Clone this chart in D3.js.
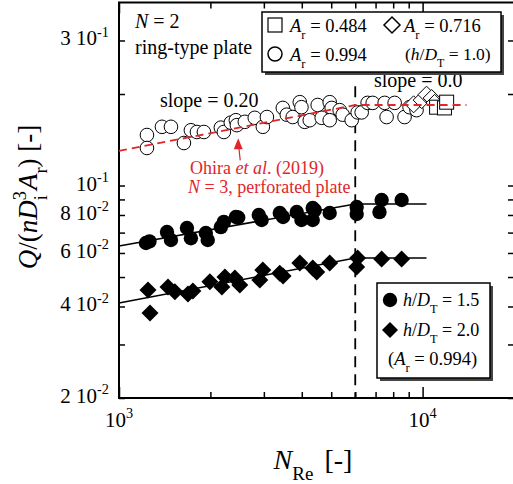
<!DOCTYPE html>
<html>
<head>
<meta charset="utf-8">
<script src="https://cdn.jsdelivr.net/npm/d3@7"></script>
<style>
  body { margin: 0; background: #fff; }
  svg { display: block; font-family: "Liberation Serif", "Times New Roman", serif; }
</style>
</head>
<body>
<script>
// tick values and labels
const xTickVals = [1000, 2000, 3000, 4000, 5000, 6000, 7000, 8000, 9000, 10000, 20000];
const xMajor = [1000, 10000];
const xLabels = [[1000, "3"], [10000, "4"]];
const yTickVals = [0.02, 0.03, 0.04, 0.05, 0.06, 0.07, 0.08, 0.09, 0.1, 0.2, 0.3];
const yLabels = [[0.3, "3 ", "-1"], [0.1, "", "-1"], [0.08, "8 ", "-2"], [0.06, "6 ", "-2"], [0.04, "4 ", "-2"], [0.02, "2 ", "-2"]];

// h/DT = 1.0 series, [NRe, Q/(nDi^3 Ar)]
const openCircles = [[1236, 0.1466], [1236, 0.1329], [1385, 0.156], [1483, 0.156], [1636, 0.138], [1725, 0.152],
  [1806, 0.150], [1904, 0.150], [2165, 0.155], [2215, 0.150], [2335, 0.161], [2426, 0.164], [2445, 0.158],
  [2597, 0.162], [2800, 0.167], [2977, 0.156], [3070, 0.168], [3464, 0.180], [3570, 0.171], [3735, 0.168],
  [3940, 0.188], [3990, 0.181], [4090, 0.162], [4250, 0.164], [4513, 0.184], [4653, 0.167], [4943, 0.188],
  [5018, 0.180], [4943, 0.164], [5330, 0.177], [5455, 0.171], [5840, 0.164], [6110, 0.174], [6300, 0.174],
  [6590, 0.187], [6850, 0.187], [7500, 0.187], [7610, 0.168], [8090, 0.187], [8720, 0.168], [9060, 0.181],
  [9550, 0.177]];
const openDiamonds = [[9340, 0.185], [9930, 0.191], [10300, 0.199], [10710, 0.194], [10950, 0.187]];
const openSquares = [[11120, 0.181], [11800, 0.180], [12000, 0.188]];

// Ar = 0.994 series
const filledCircles = [[1227, 0.0647], [1260, 0.0655], [1439, 0.0703], [1483, 0.0662], [1674, 0.0725],
  [1725, 0.0671], [1932, 0.0698], [1960, 0.0662], [2165, 0.073], [2215, 0.0759], [2426, 0.0788], [2470, 0.0785],
  [2887, 0.080], [2950, 0.077], [3385, 0.0812], [3470, 0.0788], [3850, 0.0818], [3990, 0.077], [4346, 0.0843],
  [4414, 0.083], [4346, 0.077], [4943, 0.0812], [6066, 0.085], [6066, 0.0806], [7330, 0.0896], [7210, 0.0818],
  [8530, 0.0896]];
const filledDiamonds = [[1246, 0.0453], [1265, 0.0381], [1450, 0.0464], [1528, 0.0447], [1687, 0.044],
  [1751, 0.045], [1992, 0.0482], [2182, 0.0464], [2233, 0.050], [2408, 0.0496], [2500, 0.0471], [2910, 0.0489],
  [2977, 0.0527], [3385, 0.0515], [3470, 0.0504], [3940, 0.0556], [4346, 0.0535], [4480, 0.0519],
  [4943, 0.0556], [6110, 0.0577], [6066, 0.0539], [7330, 0.0573], [8530, 0.0573]];

// correlation lines
const fitOhira = [[1000, 0.130], [6000, 0.184], [13950, 0.184]];
const fit15 = [[1000, 0.0632], [6000, 0.087], [10300, 0.087]];
const fit20 = [[1000, 0.0411], [6000, 0.0577], [10300, 0.0577]];
const transitionRe = 6000;

const width = 513, height = 484;
const red = "#e0262b";

const x = d3.scaleLog().domain([1000, 20000]).range([119, 514]);
const y = d3.scaleLog().domain([0.02, 0.4]).range([398, 2.5]);

const svg = d3.select("body").append("svg")
  .attr("width", width)
  .attr("height", height);

// text with italic / sub / sup parts
function rich(g, px, py, size, parts, anchor, fill) {
  const t = g.append("text")
    .attr("x", px).attr("y", py)
    .attr("font-size", size)
    .attr("text-anchor", anchor || "start")
    .attr("fill", fill || "#000");
  let cur = 0;
  parts.forEach(function(p) {
    let off = 0, fs = size;
    if (p.s === "sub") { off = size * 0.38; fs = size * 0.68; }
    if (p.s === "sup") { off = -size * 0.42; fs = size * 0.68; }
    const sp = t.append("tspan").text(p.t)
      .attr("dy", off - cur)
      .attr("font-size", fs);
    if (p.dx) sp.attr("dx", p.dx);
    if (p.i) sp.attr("font-style", "italic");
    cur = off;
  });
  return t;
}

// axes (ticks point inward)
function tickLen(d) { return xMajor.includes(d) ? 11 : 6; }

const xb = svg.append("g").attr("transform", "translate(0,398)")
  .call(d3.axisBottom(x).tickValues(xTickVals).tickSizeOuter(0).tickFormat(""));
xb.selectAll(".tick line").attr("y2", d => -tickLen(d));
const xt = svg.append("g").attr("transform", "translate(0,2.5)")
  .call(d3.axisTop(x).tickValues(xTickVals).tickSizeOuter(0).tickFormat(""));
xt.selectAll(".tick line").attr("y2", d => tickLen(d));
svg.append("g").attr("transform", "translate(119,0)")
  .call(d3.axisLeft(y).tickValues(yTickVals).tickSize(-6).tickSizeOuter(0).tickFormat(""));
svg.append("g").attr("transform", "translate(514,0)")
  .call(d3.axisRight(y).tickValues(yTickVals).tickSize(-6).tickSizeOuter(0).tickFormat(""));
svg.selectAll(".domain").remove();
svg.selectAll(".tick line").attr("stroke", "#000").attr("stroke-width", 1.5);

svg.append("rect")
  .attr("x", x(1000)).attr("y", y(0.4))
  .attr("width", x(20000) - x(1000)).attr("height", y(0.02) - y(0.4))
  .attr("fill", "none").attr("stroke", "#000").attr("stroke-width", 2);

// tick labels
xLabels.forEach(function(d) {
  rich(svg, x(d[0]), 427, 21, [{t: "10"}, {t: d[1], s: "sup"}], "middle");
});
yLabels.forEach(function(d) {
  rich(svg, 109, y(d[0]) + 5, 21, [{t: d[1] + "10"}, {t: d[2], s: "sup"}], "end");
});

// axis titles
rich(svg, 313, 469, 28, [{t: "N", i: true}, {t: "Re", s: "sub"}, {t: " [-]", dx: 4}], "middle");
const yl = svg.append("g").attr("transform", "translate(37,197) rotate(-90)");
rich(yl, 0, 0, 27, [{t: "Q", i: true}, {t: "/("}, {t: "nD", i: true}, {t: "i", s: "sub"},
  {t: "3", s: "sup", dx: -5}, {t: "A", i: true, dx: 1}, {t: "r", s: "sub"}, {t: ") [-]"}], "middle");

// fit lines
const line = d3.line().x(d => x(d[0])).y(d => y(d[1]));
svg.append("path").datum(fit15).attr("d", line)
  .attr("fill", "none").attr("stroke", "#000").attr("stroke-width", 1.5);
svg.append("path").datum(fit20).attr("d", line)
  .attr("fill", "none").attr("stroke", "#000").attr("stroke-width", 1.5);

// transition line
svg.append("line")
  .attr("x1", x(transitionRe)).attr("x2", x(transitionRe))
  .attr("y1", y(0.212)).attr("y2", y(0.02))
  .attr("stroke", "#000").attr("stroke-width", 1.8).attr("stroke-dasharray", "11,7");

// markers
function diamond(s) { return "M0," + (-s) + "L" + s + ",0L0," + s + "L" + (-s) + ",0Z"; }

svg.append("g").selectAll("circle").data(openCircles).join("circle")
  .attr("cx", d => x(d[0])).attr("cy", d => y(d[1])).attr("r", 6.8)
  .attr("fill", "#fff").attr("stroke", "#000").attr("stroke-width", 1);
svg.append("g").selectAll("path").data(openDiamonds).join("path")
  .attr("transform", d => "translate(" + x(d[0]) + "," + y(d[1]) + ")")
  .attr("d", diamond(8.5))
  .attr("fill", "#fff").attr("stroke", "#000").attr("stroke-width", 1);
svg.append("g").selectAll("rect").data(openSquares).join("rect")
  .attr("x", d => x(d[0]) - 7).attr("y", d => y(d[1]) - 7)
  .attr("width", 14).attr("height", 14)
  .attr("fill", "#fff").attr("stroke", "#000").attr("stroke-width", 1);

svg.append("g").selectAll("circle").data(filledCircles).join("circle")
  .attr("cx", d => x(d[0])).attr("cy", d => y(d[1])).attr("r", 7.2)
  .attr("fill", "#000");
svg.append("g").selectAll("path").data(filledDiamonds).join("path")
  .attr("transform", d => "translate(" + x(d[0]) + "," + y(d[1]) + ")")
  .attr("d", diamond(8.5))
  .attr("fill", "#000");

// Ohira et al. (2019) correlation
svg.append("path").datum(fitOhira).attr("d", line)
  .attr("fill", "none").attr("stroke", red).attr("stroke-width", 1.8).attr("stroke-dasharray", "8,5");

// arrow to the red line
const ax = x(2470);
svg.append("line")
  .attr("x1", ax + 2).attr("y1", y(0.121)).attr("x2", ax).attr("y2", y(0.139))
  .attr("stroke", red).attr("stroke-width", 1.2);
svg.append("path")
  .attr("transform", "translate(" + ax + "," + y(0.143) + ")")
  .attr("d", "M0,0L-4.5,11L4.5,11Z").attr("fill", red);

// annotations
rich(svg, 135, 28, 20, [{t: "N", i: true}, {t: " = 2"}]);
rich(svg, 135, 54, 20, [{t: "ring-type plate"}]);
rich(svg, 160, 107, 20, [{t: "slope = 0.20"}]);
rich(svg, 374, 87, 20, [{t: "slope = 0.0"}]);
rich(svg, 190, 174, 18, [{t: "Ohira "}, {t: "et al", i: true}, {t: ". (2019)"}], "start", red);
rich(svg, 188, 193, 18, [{t: "N", i: true}, {t: " = 3, perforated plate"}], "start", red);

// legend boxes
function box(x0, y0, w, h) {
  svg.append("rect").attr("x", x0 + 3).attr("y", y0 + 3).attr("width", w).attr("height", h).attr("fill", "#444");
  svg.append("rect").attr("x", x0).attr("y", y0).attr("width", w).attr("height", h)
    .attr("fill", "#fff").attr("stroke", "#000").attr("stroke-width", 1.5);
}

box(262, 12, 239, 60);
svg.append("rect").attr("x", 268).attr("y", 18).attr("width", 14).attr("height", 14)
  .attr("fill", "#fff").attr("stroke", "#000").attr("stroke-width", 1.2);
rich(svg, 290, 32, 18.5, [{t: "A", i: true}, {t: "r", s: "sub"}, {t: " = 0.484"}]);
svg.append("path").attr("transform", "translate(392,25)").attr("d", diamond(8))
  .attr("fill", "#fff").attr("stroke", "#000").attr("stroke-width", 1.5);
rich(svg, 404, 32, 18.5, [{t: "A", i: true}, {t: "r", s: "sub"}, {t: " = 0.716"}]);
svg.append("circle").attr("cx", 275).attr("cy", 54).attr("r", 7)
  .attr("fill", "#fff").attr("stroke", "#000").attr("stroke-width", 1.5);
rich(svg, 290, 61, 18.5, [{t: "A", i: true}, {t: "r", s: "sub"}, {t: " = 0.994"}]);
rich(svg, 405, 60, 17.5, [{t: "("}, {t: "h", i: true}, {t: "/"}, {t: "D", i: true}, {t: "T", s: "sub"}, {t: " = 1.0)"}]);

box(377, 283, 113, 95);
svg.append("circle").attr("cx", 390).attr("cy", 300).attr("r", 7.2).attr("fill", "#000");
rich(svg, 403, 306, 18, [{t: "h", i: true}, {t: "/"}, {t: "D", i: true}, {t: "T", s: "sub"}, {t: " = 1.5"}]);
svg.append("path").attr("transform", "translate(390,330)").attr("d", diamond(8)).attr("fill", "#000");
rich(svg, 403, 336, 18, [{t: "h", i: true}, {t: "/"}, {t: "D", i: true}, {t: "T", s: "sub"}, {t: " = 2.0"}]);
rich(svg, 388, 365, 18.5, [{t: "("}, {t: "A", i: true}, {t: "r", s: "sub"}, {t: " = 0.994)"}]);
</script>
</body>
</html>
